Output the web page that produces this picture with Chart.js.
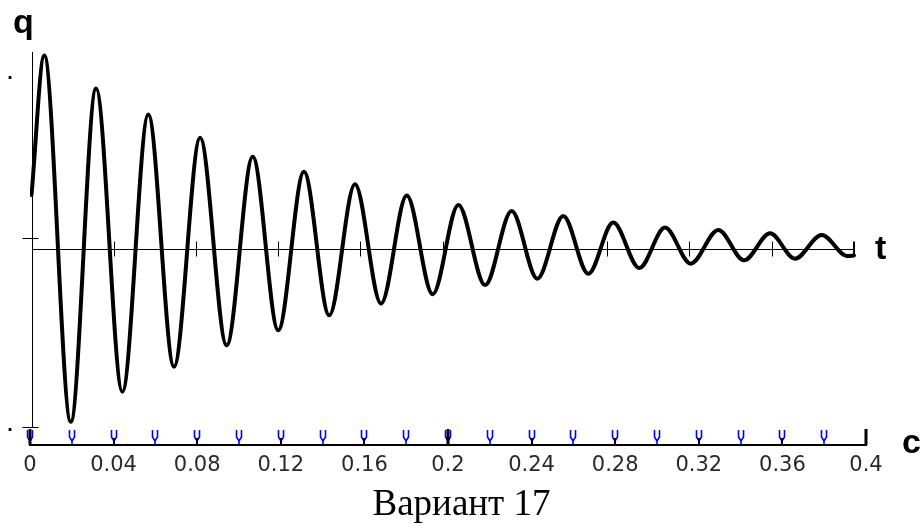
<!DOCTYPE html>
<html>
<head>
<meta charset="utf-8">
<title>Вариант 17</title>
<script src="https://cdn.jsdelivr.net/npm/chart.js@4/dist/chart.umd.min.js"></script>
<style>
  html, body { margin: 0; padding: 0; background: #fff; }
  #wrap { width: 923px; height: 530px; position: relative; }
</style>
</head>
<body>
<div id="wrap"><canvas id="plot"></canvas></div>
<script>
// Charge q(t) of the damped oscillation: start value, successive extremes, end value
const tPoints = [0, 0.0062, 0.0191, 0.0314, 0.0442, 0.0568, 0.0693, 0.0820, 0.0949,
                 0.1076, 0.1200, 0.1325, 0.1448, 0.1573, 0.1700, 0.1825, 0.1951,
                 0.2076, 0.2206, 0.2335, 0.2460, 0.2586, 0.2708, 0.2829, 0.2956,
                 0.3081, 0.3206, 0.3340, 0.3465, 0.3592, 0.3713, 0.3843, 0.3968, 0.4];
const qPoints = [0.300, 1.081, -0.970, 0.896, -0.802, 0.750, -0.662, 0.620, -0.542,
                 0.514, -0.458, 0.430, -0.374, 0.359, -0.308, 0.296, -0.256,
                 0.244, -0.205, 0.210, -0.169, 0.182, -0.141, 0.146, -0.109,
                 0.117, -0.085, 0.104, -0.066, 0.085, -0.057, 0.076, -0.042, -0.039];

// Time axis (seconds) under the graph
const xTickValues = [0, 0.04, 0.08, 0.12, 0.16, 0.2, 0.24, 0.28, 0.32, 0.36, 0.4];
const xTickLabels = ['0', '0.04', '0.08', '0.12', '0.16', '0.2', '0.24', '0.28', '0.32', '0.36', '0.4'];
const xLongTicks  = [0, 0.2, 0.4];
const xMarkers    = [0, 0.02, 0.04, 0.06, 0.08, 0.1, 0.12, 0.14, 0.16, 0.18,
                     0.2, 0.22, 0.24, 0.26, 0.28, 0.3, 0.32, 0.34, 0.36, 0.38];

// Ticks on the axes of the q(t) graph itself
const tAxisTicks = [0.04, 0.08, 0.12, 0.16, 0.2, 0.24, 0.28, 0.32, 0.36];
const tAxisEnd   = 0.4;
const qAxisTicks = [-1, 0.06];
const qAxisTop   = 1.1;
const qLimitDots = [0.96, -1.01];

function seg(ctx, x1, y1, x2, y2) {
  ctx.beginPath();
  ctx.moveTo(x1, y1);
  ctx.lineTo(x2, y2);
  ctx.stroke();
}
const half = v => Math.round(v) + 0.5;

const axesPlugin = {
  id: 'oscAxes',
  beforeDatasetsDraw(chart) {
    const { ctx, scales: { tq, y } } = chart;
    const x0 = half(tq.getPixelForValue(0));
    const x1 = tq.getPixelForValue(tAxisEnd);
    const y0 = half(y.getPixelForValue(0));
    ctx.save();
    ctx.strokeStyle = '#000';
    ctx.lineWidth = 1;
    // q axis
    seg(ctx, x0, y.getPixelForValue(qAxisTop), x0, y.getPixelForValue(qAxisTicks[0]));
    // t axis through q = 0
    seg(ctx, x0, y0, x1, y0);
    qAxisTicks.forEach(v => {
      const yy = half(y.getPixelForValue(v));
      seg(ctx, x0 - 10, yy, x0 + 6, yy);
    });
    tAxisTicks.forEach(v => {
      const xx = half(tq.getPixelForValue(v));
      seg(ctx, xx, y0 - 8, xx, y0 + 7);
    });
    ctx.lineWidth = 2;
    seg(ctx, Math.round(x1), y0 - 8, Math.round(x1), y0 + 5);

    // limit marks left of the q axis
    ctx.fillStyle = '#000';
    ctx.font = 'bold 16px "DejaVu Sans"';
    ctx.textAlign = 'left';
    ctx.textBaseline = 'alphabetic';
    qLimitDots.forEach(v => ctx.fillText('.', 7, y.getPixelForValue(v) + 2));
    ctx.restore();
  },
  afterDraw(chart) {
    const { ctx, scales: { x, tq, y } } = chart;
    const base = Math.round(x.top);
    ctx.save();
    // blue markers every 0.02 s
    ctx.strokeStyle = '#0000ff';
    ctx.lineWidth = 1.6;
    xMarkers.forEach(v => {
      const px = Math.round(x.getPixelForValue(v));
      ctx.beginPath();
      ctx.moveTo(px - 2.5, base - 15);
      ctx.lineTo(px - 2.5, base - 8);
      ctx.lineTo(px, base - 4);
      ctx.lineTo(px, base - 1);
      ctx.moveTo(px + 2.5, base - 15);
      ctx.lineTo(px + 2.5, base - 8);
      ctx.lineTo(px, base - 4);
      ctx.stroke();
    });
    // black ticks at the labelled values
    ctx.fillStyle = '#000';
    xTickValues.forEach(v => {
      const px = Math.round(x.getPixelForValue(v));
      if (xLongTicks.includes(v)) {
        ctx.fillRect(px - 1.5, base - 16, 3, 16);
      } else {
        ctx.fillRect(px - 1, base - 7, 2, 7);
      }
    });

    // axis names
    ctx.fillStyle = '#000';
    ctx.font = 'bold 34px "Liberation Sans"';
    ctx.textAlign = 'left';
    ctx.textBaseline = 'alphabetic';
    ctx.fillText('q', 13, y.getPixelForValue(qAxisTop) - 19);
    ctx.fillText('t', tq.getPixelForValue(tAxisEnd) + 21, y.getPixelForValue(0) + 10.5);
    ctx.fillText('c', x.right + 36, base + 8);
    ctx.restore();
  }
};

new Chart(document.getElementById('plot'), {
  type: 'line',
  data: {
    datasets: [{
      data: tPoints.map((t, i) => ({ x: t, y: qPoints[i] })),
      xAxisID: 'tq',
      yAxisID: 'y',
      borderColor: '#000',
      borderWidth: 4,
      borderCapStyle: 'round',
      borderJoinStyle: 'round',
      pointRadius: 0,
      fill: false,
      cubicInterpolationMode: 'monotone'
    }]
  },
  options: {
    responsive: true,
    maintainAspectRatio: false,
    animation: false,
    events: [],
    layout: { padding: { top: 52, left: 0, right: 0, bottom: 0 } },
    plugins: {
      legend: { display: false },
      tooltip: { enabled: false },
      title: {
        display: true,
        text: 'Вариант 17',
        position: 'bottom',
        color: '#000',
        font: { family: '"Liberation Serif"', size: 37, weight: 'normal' },
        padding: { top: 2, bottom: 2.6 }
      }
    },
    scales: {
      x: {
        type: 'linear',
        position: 'bottom',
        min: 0,
        max: 0.4,
        afterBuildTicks: s => { s.ticks = xTickValues.map(v => ({ value: v })); },
        afterFit: s => { s.height = 36; },
        grid: { display: false, drawTicks: false },
        border: { display: true, color: '#000', width: 2 },
        ticks: {
          autoSkip: false,
          maxRotation: 0,
          padding: 8,
          color: '#2a2a2a',
          font: { family: '"DejaVu Sans"', size: 21 },
          callback: (v, i) => xTickLabels[i]
        }
      },
      tq: { type: 'linear', display: false, min: -0.00073, max: 0.40584 },
      y: {
        type: 'linear',
        position: 'left',
        min: -1.1,
        max: 1.1,
        afterFit: s => { s.width = 30; },
        grid: { display: false, drawTicks: false },
        border: { display: false },
        ticks: { display: false }
      },
      yR: {
        type: 'linear',
        position: 'right',
        afterFit: s => { s.width = 57; },
        grid: { display: false, drawTicks: false },
        border: { display: false },
        ticks: { display: false }
      }
    }
  },
  plugins: [axesPlugin]
});
</script>
</body>
</html>
